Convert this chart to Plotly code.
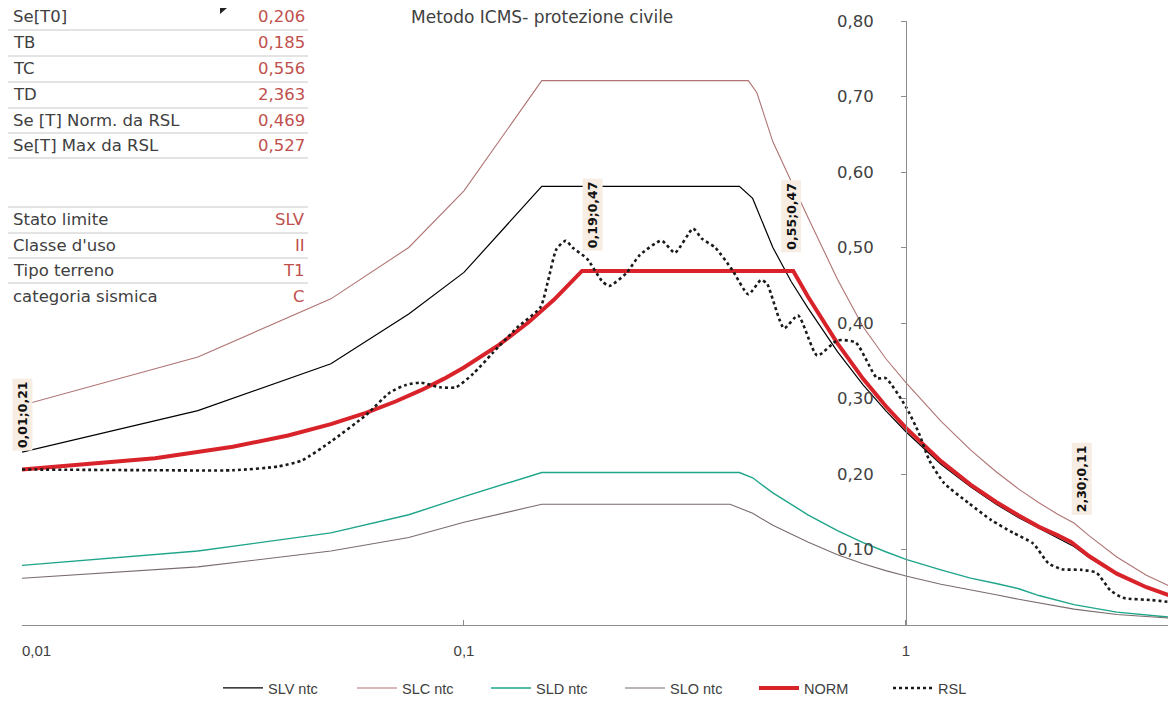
import math
import plotly.graph_objects as go

# ---------------- data ----------------
SLV_T = [0.01, 0.025, 0.05, 0.075, 0.1, 0.15, 0.42, 0.45, 0.5, 0.55, 0.6, 0.7, 0.8, 0.9, 1.0,
         1.2, 1.4, 1.6, 1.8, 2.0, 2.2, 2.4, 2.6, 3.0, 3.5, 4.0]
SLV_V = [0.229, 0.284, 0.346, 0.412, 0.467, 0.581, 0.581, 0.565, 0.500, 0.455, 0.420, 0.362, 0.318,
         0.284, 0.256, 0.213, 0.183, 0.160, 0.142, 0.128, 0.116, 0.104, 0.089, 0.067, 0.050, 0.039]

SLC_T = [0.01, 0.025, 0.05, 0.075, 0.1, 0.15, 0.44, 0.46, 0.5, 0.6, 0.7, 0.8, 0.9, 1.0,
         1.2, 1.4, 1.6, 1.8, 2.0, 2.2, 2.4, 2.6, 3.0, 3.5, 4.0]
SLC_V = [0.291, 0.355, 0.432, 0.500, 0.575, 0.721, 0.721, 0.705, 0.640, 0.540, 0.458, 0.395, 0.353,
         0.321, 0.270, 0.232, 0.203, 0.180, 0.162, 0.147, 0.135, 0.118, 0.090, 0.066, 0.050]

SLD_T = [0.01, 0.025, 0.05, 0.075, 0.1, 0.15, 0.42, 0.45, 0.5, 0.6, 0.7, 0.8, 0.9, 1.0,
         1.2, 1.4, 1.6, 1.8, 2.0, 2.4, 3.0, 3.5, 4.0]
SLD_V = [0.079, 0.098, 0.122, 0.146, 0.170, 0.202, 0.202, 0.195, 0.175, 0.146, 0.125, 0.109, 0.097,
         0.087, 0.073, 0.062, 0.055, 0.048, 0.039, 0.027, 0.017, 0.013, 0.010]

SLO_T = [0.01, 0.025, 0.05, 0.075, 0.1, 0.15, 0.40, 0.45, 0.5, 0.6, 0.7, 0.8, 0.9, 1.0,
         1.2, 1.4, 1.6, 1.8, 2.0, 2.4, 3.0, 3.5, 4.0]
SLO_V = [0.062, 0.077, 0.098, 0.116, 0.136, 0.160, 0.160, 0.148, 0.132, 0.110, 0.093, 0.081, 0.072,
         0.065, 0.054, 0.046, 0.040, 0.034, 0.029, 0.021, 0.014, 0.011, 0.009]

NORM_T = [0.01, 0.02, 0.03, 0.04, 0.05, 0.06, 0.07, 0.08, 0.09, 0.1, 0.12, 0.14, 0.16, 0.185,
          0.3, 0.556, 0.6, 0.7, 0.8, 0.9, 1.0, 1.2, 1.4, 1.6, 1.8, 2.0, 2.2, 2.363, 2.6, 3.0, 3.5, 4.0]
NORM_V = [0.206, 0.221, 0.236, 0.251, 0.266, 0.281, 0.296, 0.311, 0.326, 0.341, 0.371, 0.401, 0.431,
          0.469, 0.469, 0.469, 0.435, 0.373, 0.326, 0.290, 0.261, 0.217, 0.186, 0.163, 0.145, 0.130,
          0.119, 0.110, 0.091, 0.068, 0.050, 0.038]

RSL_T = [0.01, 0.02, 0.03, 0.038, 0.043, 0.05, 0.06, 0.068, 0.074, 0.08, 0.088, 0.096, 0.105, 0.116,
         0.132, 0.149, 0.155, 0.162, 0.170, 0.176, 0.19, 0.205, 0.213, 0.233, 0.25, 0.28, 0.30, 0.33,
         0.345, 0.37, 0.405, 0.44, 0.47, 0.485, 0.53, 0.57, 0.63, 0.70, 0.77, 0.86, 0.90, 1.0, 1.07,
         1.13, 1.22, 1.39, 1.56, 1.75, 1.94, 2.1, 2.25, 2.5, 2.7, 2.9, 3.1, 3.6, 4.0]
RSL_V = [0.206, 0.205, 0.205, 0.210, 0.218, 0.243, 0.278, 0.308, 0.318, 0.321, 0.315, 0.315, 0.333,
         0.360, 0.394, 0.421, 0.456, 0.498, 0.509, 0.500, 0.485, 0.456, 0.449, 0.466, 0.490, 0.509,
         0.493, 0.525, 0.512, 0.500, 0.470, 0.438, 0.457, 0.452, 0.393, 0.410, 0.357, 0.377, 0.374,
         0.327, 0.327, 0.289, 0.254, 0.218, 0.188, 0.161, 0.139, 0.122, 0.108, 0.082, 0.074, 0.073,
         0.069, 0.046, 0.036, 0.033, 0.030]

SERIES_NAMES = ["SLV ntc", "SLC ntc", "SLD ntc", "SLO ntc", "NORM", "RSL"]

TABLE1_LABELS = ["Se[T0]", "TB", "TC", "TD", "Se [T] Norm. da RSL", "Se[T] Max da RSL"]
TABLE1_VALUES = ["0,206", "0,185", "0,556", "2,363", "0,469", "0,527"]
TABLE2_LABELS = ["Stato limite", "Classe d'uso", "Tipo terreno", "categoria sismica"]
TABLE2_VALUES = ["SLV", "II", "T1", "C"]

POINT_LABELS = ["0,01;0,21", "0,19;0,47", "0,55;0,47", "2,30;0,11"]
POINT_LABEL_T = [0.01, 0.195, 0.55, 2.5]
POINT_LABEL_V = [0.278, 0.543, 0.541, 0.194]

X_TICKS = [0.01, 0.1, 1]
X_TICKTEXT = ["0,01", "0,1", "1"]
Y_TICKS = [0.1, 0.2, 0.3, 0.4, 0.5, 0.6, 0.7, 0.8]

TITLE = "Metodo ICMS- protezione civile"

# ---------------- layout helpers ----------------
# the page body has an 8 px margin: figure is drawn at (8, 8)
OFF = 8
W, H = 1168, 696
ML, MR, MT, MB = 14, 4, 13, 79
PW = W - ML - MR
PH = H - MT - MB


def px(x):
    """page pixel x -> paper fraction"""
    return (x - OFF - ML) / PW


def py(y):
    """page pixel y -> paper fraction"""
    return (OFF + MT + PH - y) / PH


TXT = "#404040"
VAL = "#c0504d"
FONT = "'DejaVu Sans', Lato, sans-serif"
NARROW = "'Liberation Sans', Arial, sans-serif"
TSIZE = 16.5
XT_SIZE = 15

fig = go.Figure()

styles = [
    dict(color="#000000", width=1.2),
    dict(color="#b07474", width=1.1),
    dict(color="#1fa58a", width=1.4),
    dict(color="#7a6c6c", width=1.1),
    dict(color="#d8232a", width=4),
    dict(color="#1a1a1a", width=2.6, dash="dot"),
]
xs = [SLV_T, SLC_T, SLD_T, SLO_T, NORM_T, RSL_T]
ys = [SLV_V, SLC_V, SLD_V, SLO_V, NORM_V, RSL_V]
for name, x, y, st in zip(SERIES_NAMES, xs, ys, styles):
    line = dict(st)
    if name == "RSL":
        line["shape"] = "spline"
        line["smoothing"] = 0.6
    fig.add_trace(go.Scatter(x=x, y=y, mode="lines", name=name, line=line))

annotations = []
shapes = []

# title
annotations.append(dict(text=TITLE, x=px(542), y=py(17), xref="paper", yref="paper",
                        showarrow=False, xanchor="center", yanchor="middle",
                        font=dict(family=FONT, size=17, color=TXT)))

# table 1
row_y1 = [17, 43, 69, 95, 120, 145]
for lab, val, ry in zip(TABLE1_LABELS, TABLE1_VALUES, row_y1):
    annotations.append(dict(text=lab, x=px(11), y=py(ry), xref="paper", yref="paper",
                            showarrow=False, xanchor="left", yanchor="middle",
                            font=dict(family=FONT, size=TSIZE, color=TXT)))
    annotations.append(dict(text=val, x=px(307), y=py(ry), xref="paper", yref="paper",
                            showarrow=False, xanchor="right", yanchor="middle",
                            font=dict(family=FONT, size=TSIZE, color=VAL)))
    shapes.append(dict(type="line", xref="paper", yref="paper", x0=px(8), x1=px(308),
                       y0=py(ry + 13), y1=py(ry + 13), line=dict(color="#c8c8c8", width=1)))

# table 2
row_y2 = [220, 245, 270, 296]
shapes.append(dict(type="line", xref="paper", yref="paper", x0=px(8), x1=px(308),
                   y0=py(207), y1=py(207), line=dict(color="#c8c8c8", width=1)))
for i, (lab, val, ry) in enumerate(zip(TABLE2_LABELS, TABLE2_VALUES, row_y2)):
    annotations.append(dict(text=lab, x=px(11), y=py(ry), xref="paper", yref="paper",
                            showarrow=False, xanchor="left", yanchor="middle",
                            font=dict(family=FONT, size=TSIZE, color=TXT)))
    annotations.append(dict(text=val, x=px(307), y=py(ry), xref="paper", yref="paper",
                            showarrow=False, xanchor="right", yanchor="middle",
                            font=dict(family=FONT, size=TSIZE, color=VAL)))
    if i < len(TABLE2_LABELS) - 1:
        shapes.append(dict(type="line", xref="paper", yref="paper", x0=px(8), x1=px(308),
                           y0=py(ry + 13), y1=py(ry + 13), line=dict(color="#c8c8c8", width=1)))

# small comment marker
shapes.append(dict(type="path", xref="paper", yref="paper",
                   path=f"M {px(220)} {py(8)} L {px(227)} {py(8)} L {px(220)} {py(14)} Z",
                   fillcolor="#222", line=dict(width=0)))

# data point labels
for t, v, lab in zip(POINT_LABEL_T, POINT_LABEL_V, POINT_LABELS):
    annotations.append(dict(text=f"<b>{lab}</b>", x=math.log10(t), y=v, xref="x", yref="y",
                            showarrow=False, textangle=-90, bgcolor="#f7ede3",
                            font=dict(family="'DejaVu Sans', Arial", size=12.5, color="#111"),
                            borderpad=2))

# first x tick label: Excel keeps it inside the chart, so it is left-aligned on its tick
annotations.append(dict(text=X_TICKTEXT[0], x=math.log10(X_TICKS[0]), y=py(650), xref="x",
                        yref="paper", xanchor="left", yanchor="middle", xshift=-2,
                        showarrow=False, font=dict(family=NARROW, size=XT_SIZE, color=TXT)))

fig.update_layout(
    width=W, height=H,
    margin=dict(l=ML, r=MR, t=MT, b=MB, autoexpand=False),
    plot_bgcolor="white", paper_bgcolor="white",
    separators=",.",
    showlegend=True,
    legend=dict(orientation="h", x=px(218), xanchor="left", y=py(688), yanchor="middle",
                font=dict(family=NARROW, size=14.5, color=TXT),
                entrywidth=79, itemwidth=40, bgcolor="rgba(0,0,0,0)"),
    annotations=annotations,
    shapes=shapes,
    xaxis=dict(type="log", range=[-2, math.log10(4.0)], tickvals=X_TICKS,
               ticktext=[""] + X_TICKTEXT[1:],
               showgrid=False, zeroline=False, showline=True, linecolor="#8c8c8c", linewidth=1,
               ticks="inside", ticklen=5, tickcolor="#8c8c8c", ticklabelstandoff=12,
               tickfont=dict(family=NARROW, size=XT_SIZE, color=TXT)),
    yaxis=dict(range=[0, 0.8], tickvals=Y_TICKS, tickformat=".2f", showgrid=False, zeroline=False,
               anchor="free", position=px(906), side="left", showline=True, linecolor="#8c8c8c",
               linewidth=1, ticks="outside", ticklen=5, tickcolor="#8c8c8c", ticklabelstandoff=24,
               tickfont=dict(family=FONT, size=16.5, color=TXT)),
)

fig.write_html("out.html")
